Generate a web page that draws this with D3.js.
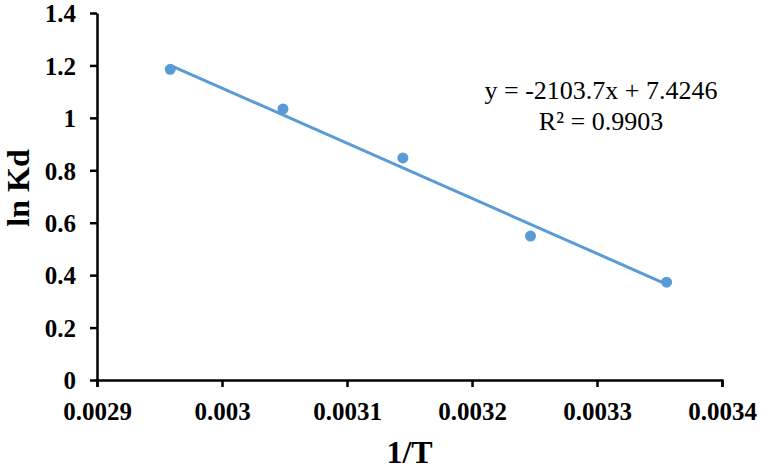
<!DOCTYPE html>
<html>
<head>
<meta charset="utf-8">
<script src="https://cdn.jsdelivr.net/npm/d3@7"></script>
<style>
  body { margin: 0; background: #fff; }
  svg { display: block; }
</style>
</head>
<body>
<div id="chart"></div>
<script>
// data: 1/T (K^-1) and ln Kd
var invT = [0.0029586, 0.0030488, 0.0031447, 0.0032468, 0.0033557];
var lnKd = [1.185, 1.034, 0.847, 0.549, 0.373];

// linear trendline shown on the chart
var slope = -2103.7;
var intercept = 7.4246;
var eqLines = ["y = -2103.7x + 7.4246", "R\u00b2 = 0.9903"];

var xTicks = [0.0029, 0.003, 0.0031, 0.0032, 0.0033, 0.0034];
var xTickLabels = ["0.0029", "0.003", "0.0031", "0.0032", "0.0033", "0.0034"];
var yTicks = [0, 0.2, 0.4, 0.6, 0.8, 1, 1.2, 1.4];
var yTickLabels = ["0", "0.2", "0.4", "0.6", "0.8", "1", "1.2", "1.4"];

var W = 762, H = 470;
var margin = { top: 13, right: 40, bottom: 90, left: 97 },
  width = 722 - margin.left,
  height = 380 - margin.top;

var serif = '"Liberation Serif", "Times New Roman", serif';
var blue = "#5b9bd5";

var x = d3.scaleLinear().domain([0.0029, 0.0034]).range([0, width]);
var y = d3.scaleLinear().domain([0, 1.4]).range([height, 0]);

var svg = d3
  .select("#chart")
  .append("svg")
  .attr("width", W)
  .attr("height", H)
  .append("g")
  .attr("transform", "translate(" + margin.left + "," + margin.top + ")");

// X axis
var xAxis = svg
  .append("g")
  .attr("transform", "translate(0," + height + ")")
  .call(
    d3.axisBottom(x)
      .tickValues(xTicks)
      .tickFormat(function (d, i) { return xTickLabels[i]; })
      .tickSizeInner(7)
      .tickSizeOuter(7)
      .tickPadding(15)
  );

// Y axis
var yAxis = svg
  .append("g")
  .call(
    d3.axisLeft(y)
      .tickValues(yTicks)
      .tickFormat(function (d, i) { return yTickLabels[i]; })
      .tickSizeInner(7)
      .tickSizeOuter(0)
      .tickPadding(14)
  );

[xAxis, yAxis].forEach(function (ax) {
  ax.attr("font-family", null).attr("font-size", null);
  ax.select(".domain").attr("stroke", "#000").attr("stroke-width", 2.5);
  ax.selectAll(".tick line").attr("stroke", "#000").attr("stroke-width", 2.5);
  ax.selectAll(".tick text")
    .attr("fill", "#000")
    .attr("font-family", serif)
    .attr("font-size", 25)
    .attr("font-weight", "bold");
});
yAxis.selectAll(".tick text").attr("dy", "0.35em");

// trendline over the data range
var xs = d3.extent(invT);
svg
  .append("line")
  .attr("x1", x(xs[0]))
  .attr("y1", y(slope * xs[0] + intercept))
  .attr("x2", x(xs[1]))
  .attr("y2", y(slope * xs[1] + intercept))
  .attr("stroke", blue)
  .attr("stroke-width", 3);

// points
svg
  .append("g")
  .selectAll("circle")
  .data(invT)
  .enter()
  .append("circle")
  .attr("cx", function (d) { return x(d); })
  .attr("cy", function (d, i) { return y(lnKd[i]); })
  .attr("r", 5.5)
  .style("fill", blue);

// equation label
svg
  .append("g")
  .selectAll("text")
  .data(eqLines)
  .enter()
  .append("text")
  .attr("x", 601 - margin.left)
  .attr("y", function (d, i) { return 99 - margin.top + i * 31; })
  .attr("text-anchor", "middle")
  .attr("font-family", serif)
  .attr("font-size", 26)
  .attr("fill", "#000")
  .text(function (d) { return d; });

// axis titles
svg
  .append("text")
  .attr("x", width / 2)
  .attr("y", 463 - margin.top)
  .attr("text-anchor", "middle")
  .attr("font-family", serif)
  .attr("font-weight", "bold")
  .attr("font-size", 32)
  .text("1/T");

svg
  .append("text")
  .attr("transform", "translate(" + (29 - margin.left) + "," + (188 - margin.top) + ") rotate(-90)")
  .attr("text-anchor", "middle")
  .attr("font-family", serif)
  .attr("font-weight", "bold")
  .attr("font-size", 32)
  .text("ln Kd");
</script>
</body>
</html>
